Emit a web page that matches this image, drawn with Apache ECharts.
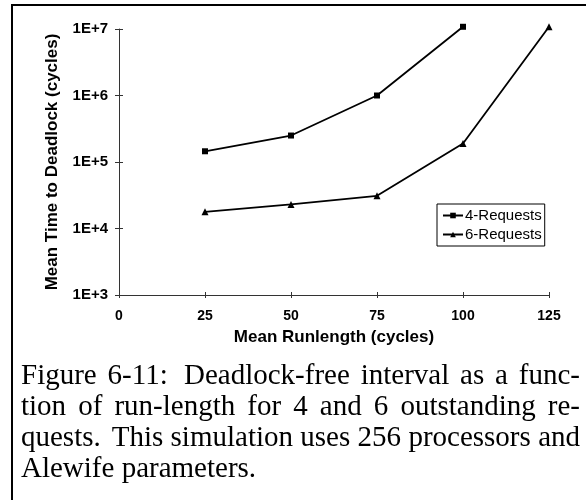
<!DOCTYPE html>
<html>
<head>
<meta charset="utf-8">
<script src="https://cdn.jsdelivr.net/npm/echarts@6/dist/echarts.min.js"></script>
<style>
  html, body { margin: 0; padding: 0; background: #fff; }
  #chart { width: 586px; height: 500px; }
</style>
</head>
<body>
<div id="chart"></div>
<script>
// Mean runlength (cycles) on the x axis
const runlength = [25, 50, 75, 100, 125];
// Mean time to deadlock (cycles), one array per request count
const requests4 = [1.45e5, 2.5e5, 1.0e6, 1.08e7];
const requests6 = [1.78e4, 2.3e4, 3.1e4, 1.9e5, 1.08e7];
const seriesNames = ['4-Requests', '6-Requests'];
// Axis ticks
const xTicks = [0, 25, 50, 75, 100, 125];
const yTickExponents = [3, 4, 5, 6, 7];
// Caption below the plot (a double space marks a wider sentence gap)
const captionLines = [
  'Figure 6-11:  Deadlock-free interval as a func-',
  'tion of run-length for 4 and 6 outstanding re-',
  'quests.  This simulation uses 256 processors and',
  'Alewife parameters.'
];

const chart = echarts.init(document.getElementById('chart'), null, { renderer: 'canvas' });

const SANS = '"Liberation Sans", Arial, Helvetica, sans-serif';
const SERIF = '"Liberation Serif", "Times New Roman", Times, serif';

const gridRect = { left: 119, right: 37, top: 29, bottom: 205, containLabel: false };

const xMin = xTicks[0], xMax = xTicks[xTicks.length - 1], xStep = xTicks[1] - xTicks[0];
const yMin = Math.pow(10, yTickExponents[0]);
const yMax = Math.pow(10, yTickExponents[yTickExponents.length - 1]);

function pairs(xs, ys) {
  return ys.map((v, i) => [xs[i], v]);
}

// Justified caption: each word is placed so that full lines span the text block
const capFont = '29px ' + SERIF;
const capLeft = 21, capRight = 580;
const capBaselines = [385, 416, 447, 478];
const measureCtx = document.createElement('canvas').getContext('2d');
measureCtx.font = capFont;
const captionGraphics = [];
captionLines.forEach((line, li) => {
  const tokens = line.split(/( +)/);
  const words = [], gapWeights = [];
  tokens.forEach(t => {
    if (/^ +$/.test(t)) gapWeights.push(t.length > 1 ? 1.5 : 1);
    else if (t) words.push(t);
  });
  const widths = words.map(w => measureCtx.measureText(w).width);
  const total = widths.reduce((a, b) => a + b, 0);
  const last = li === captionLines.length - 1;
  const space = measureCtx.measureText(' ').width;
  const weightSum = gapWeights.reduce((a, b) => a + b, 0);
  const unit = last || !weightSum ? space : (capRight - capLeft - total) / weightSum;
  let x = capLeft;
  words.forEach((w, wi) => {
    captionGraphics.push({
      type: 'text',
      x: x,
      y: capBaselines[li] - 9,
      silent: true,
      style: {
        text: w,
        font: capFont,
        fill: '#000',
        align: 'left',
        verticalAlign: 'middle'
      }
    });
    x += widths[wi] + (wi < gapWeights.length ? gapWeights[wi] * unit : 0);
  });
});

const tickLabelStyle = { color: '#000', fontFamily: SANS, fontSize: 14, fontWeight: 'bold' };
const axisLineStyle = { color: '#333', width: 1 };
const nameStyle = { color: '#000', fontFamily: SANS, fontSize: 17, fontWeight: 'bold' };

const option = {
  backgroundColor: '#fff',
  animation: false,
  // grid 1 overlays grid 0 and only carries the outer half of each tick,
  // so that ticks cross the axis lines
  grid: [Object.assign({}, gridRect), Object.assign({}, gridRect)],
  legend: {
    data: seriesNames,
    orient: 'vertical',
    left: 437,
    top: 204,
    padding: [4, 3, 4, 5],
    itemWidth: 20,
    itemHeight: 7,
    itemGap: 4,
    borderColor: '#000',
    borderWidth: 1,
    borderRadius: 0,
    backgroundColor: '#fff',
    textStyle: { color: '#000', fontFamily: SANS, fontSize: 15, padding: [0, 0, 0, -3] }
  },
  xAxis: [
    {
      gridIndex: 0,
      type: 'value',
      min: xMin, max: xMax, interval: xStep,
      position: 'bottom',
      name: 'Mean Runlength (cycles)',
      nameLocation: 'middle',
      nameGap: 34,
      nameTextStyle: nameStyle,
      axisLine: { show: true, lineStyle: axisLineStyle },
      axisTick: { show: true, inside: true, length: 3, lineStyle: axisLineStyle },
      axisLabel: Object.assign({ margin: 14 }, tickLabelStyle),
      splitLine: { show: false }
    },
    {
      gridIndex: 1,
      type: 'value',
      min: xMin, max: xMax, interval: xStep,
      position: 'bottom',
      axisLine: { show: false },
      axisTick: { show: true, inside: false, length: 3, lineStyle: axisLineStyle },
      axisLabel: { show: false },
      splitLine: { show: false }
    }
  ],
  yAxis: [
    {
      gridIndex: 0,
      type: 'log',
      logBase: 10,
      min: yMin, max: yMax,
      position: 'left',
      name: 'Mean Time to Deadlock (cycles)',
      nameLocation: 'middle',
      nameGap: 58,
      nameTextStyle: nameStyle,
      axisLine: { show: true, lineStyle: axisLineStyle },
      axisTick: { show: true, inside: true, length: 4, lineStyle: axisLineStyle },
      axisLabel: Object.assign({}, tickLabelStyle, {
        margin: 11,
        fontSize: 15,
        formatter: v => '1E+' + Math.round(Math.log10(v))
      }),
      minorTick: { show: false },
      splitLine: { show: false }
    },
    {
      gridIndex: 1,
      type: 'log',
      logBase: 10,
      min: yMin, max: yMax,
      position: 'left',
      axisLine: { show: false },
      axisTick: { show: true, inside: false, length: 4, lineStyle: axisLineStyle },
      axisLabel: { show: false },
      splitLine: { show: false }
    }
  ],
  series: [
    {
      name: seriesNames[0],
      type: 'line',
      xAxisIndex: 0,
      yAxisIndex: 0,
      data: pairs(runlength, requests4),
      symbol: 'rect',
      symbolSize: 6,
      clip: false,
      color: '#000',
      lineStyle: { color: '#000', width: 1.8 },
      itemStyle: { color: '#000' }
    },
    {
      name: seriesNames[1],
      type: 'line',
      xAxisIndex: 0,
      yAxisIndex: 0,
      data: pairs(runlength, requests6),
      symbol: 'triangle',
      symbolSize: 7,
      clip: false,
      color: '#000',
      lineStyle: { color: '#000', width: 1.8 },
      itemStyle: { color: '#000' }
    }
  ],
  graphic: [
    {
      // frame around the figure: top and left edges
      type: 'polyline',
      silent: true,
      shape: { points: [[12, 500], [12, 5], [586, 5]] },
      style: { stroke: '#000', lineWidth: 2, fill: null }
    }
  ].concat(captionGraphics)
};

chart.setOption(option);
</script>
</body>
</html>
